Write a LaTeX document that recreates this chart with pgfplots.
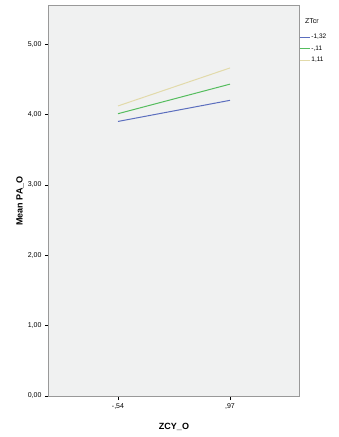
\documentclass[border=0pt]{standalone}
\usepackage{pgfplots}
\pgfplotsset{compat=1.18}
\usepackage{fontspec}
\setmainfont{Liberation Sans}
\definecolor{bgc}{HTML}{F0F1F1}
\definecolor{c1}{HTML}{5B6EBE}
\definecolor{c2}{HTML}{55BD5E}
\definecolor{c3}{HTML}{E2DAAA}
\begin{document}
\begin{tikzpicture}[x=1pt,y=1pt]
\useasboundingbox (-49pt,-41pt) rectangle (290pt,396pt);
\begin{axis}[
  at={(0,0)}, anchor=south west,
  width=250pt, height=390pt, scale only axis,
  xmin=-0.616, xmax=1.616, ymin=0, ymax=5.54,
  xtick={0,1}, xticklabels={{-,54},{,97}},
  ytick={0,1,2,3,4,5}, yticklabels={{0,00},{1,00},{2,00},{3,00},{4,00},{5,00}},
  tick align=outside, tick pos=left,
  major tick length=4pt,
  tick style={black, line width=0.6pt},
  axis line style={draw=gray!80, line width=1pt},
  axis background/.style={fill=bgc},
  ticklabel style={font=\fontsize{7}{8}\selectfont},
  /pgf/number format/assume math mode=true,
  xlabel={\textbf{ZCY\_O}}, ylabel={\textbf{Mean PA\_O}},
  label style={font=\fontsize{9}{10}\selectfont},
  xlabel style={at={(axis description cs:0.5,0)}, anchor=north, yshift=-24pt},
  ylabel style={at={(axis description cs:0,0.5)}, anchor=south, inner sep=0pt, yshift=25pt},
  legend style={at={(axis description cs:1,0.938)}, anchor=north west, draw=none, fill=none,
    font=\fontsize{6.5}{7}\selectfont, row sep=1.5pt, inner xsep=0pt,
    nodes={inner xsep=1pt}},
  legend image post style={xscale=0.6},
  legend cell align=left,
]
\addplot[c1, line width=1pt] coordinates {(0,3.90) (1,4.20)};
\addplot[c2, line width=1pt] coordinates {(0,4.01) (1,4.43)};
\addplot[c3, line width=1pt] coordinates {(0,4.12) (1,4.66)};
\legend{{-1,32},{-,11},{1,11}}
\end{axis}
\node[anchor=west, inner sep=0pt, font=\fontsize{7}{8}\selectfont] at (256pt,375pt) {ZTcr};
\end{tikzpicture}
\end{document}
